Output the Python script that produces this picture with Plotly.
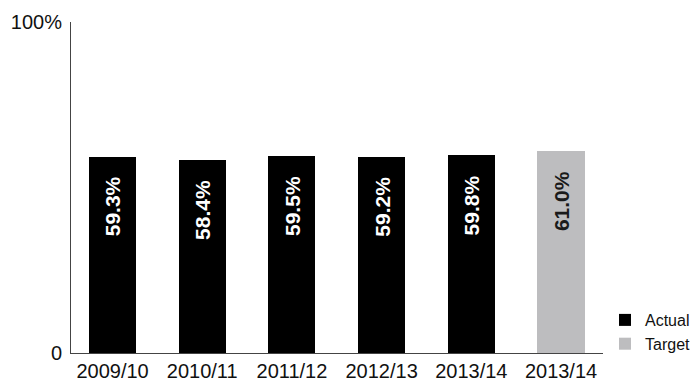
import plotly.graph_objects as go

# Share of target achieved per year
categories = ["2009/10", "2010/11", "2011/12", "2012/13", "2013/14", "2013/14"]
values = [59.3, 58.4, 59.5, 59.2, 59.8, 61.0]
series = ["Actual", "Actual", "Actual", "Actual", "Actual", "Target"]
y_tick_vals = [0, 100]
y_tick_text = ["0", "100%"]

colors = {"Actual": "#000000", "Target": "#bdbdbf"}
label_colors = {"Actual": "#ffffff", "Target": "#1a1a1a"}
FONT = "Liberation Sans, Arial, Helvetica, sans-serif"

W, H = 693, 382
positions = list(range(len(categories)))

fig = go.Figure()
for name in ["Actual", "Target"]:
    idx = [i for i, s in enumerate(series) if s == name]
    fig.add_trace(go.Bar(
        x=[positions[i] for i in idx],
        y=[values[i] for i in idx],
        name=name,
        marker=dict(color=colors[name], line=dict(width=0)),
        width=0.525,
        hoverinfo="skip",
    ))

annotations = []
for i, (v, s) in enumerate(zip(values, series)):
    annotations.append(dict(
        x=positions[i], y=v, xref="x", yref="y",
        text=f"<b>{v:.1f}%</b>", showarrow=False,
        textangle=-90, xanchor="center", yanchor="top", yshift=-18,
        font=dict(family=FONT, size=21, color=label_colors[s]),
    ))

fig.update_layout(
    width=W, height=H,
    margin=dict(l=71, r=90, t=22, b=29, autoexpand=False),
    paper_bgcolor="white", plot_bgcolor="white",
    bargap=0.0, barmode="overlay",
    font=dict(family=FONT, size=20, color="#111111"),
    annotations=annotations,
    showlegend=True,
    legend=dict(
        xref="container", yref="container",
        x=605 / W, xanchor="left",
        y=1 - 361 / H, yanchor="bottom",
        font=dict(family=FONT, size=16, color="#111111"),
        traceorder="normal", itemclick=False,
        bgcolor="rgba(0,0,0,0)",
        tracegroupgap=0,
    ),
)

fig.update_xaxes(
    range=[-0.463, 5.468], automargin=False,
    tickmode="array", tickvals=positions, ticktext=categories,
    showgrid=False, zeroline=False,
    showline=True, linecolor="#444444", linewidth=1,
    ticks="", tickfont=dict(size=20),
)
fig.update_yaxes(
    range=[0, 100], automargin=False,
    tickmode="array", tickvals=y_tick_vals, ticktext=y_tick_text,
    showgrid=False, zeroline=False,
    showline=True, linecolor="#444444", linewidth=1,
    ticks="", ticklabelstandoff=4, tickfont=dict(size=20),
)

fig.write_html("out.html")
